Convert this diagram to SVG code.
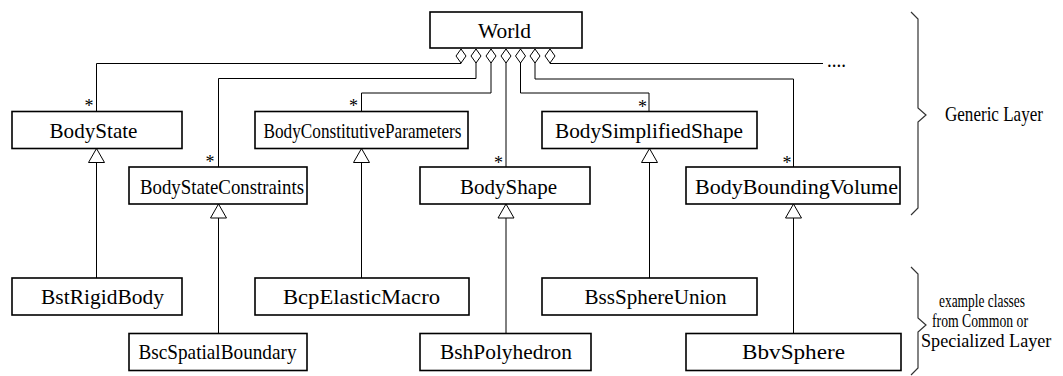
<svg xmlns="http://www.w3.org/2000/svg" width="1063" height="376" viewBox="0 0 1063 376">
<style>
.box rect{fill:#fff;stroke:#000;stroke-width:1.6}
.box text,.lbl{font-family:"Liberation Serif","Times New Roman",serif;font-size:22px;fill:#000}
.box text{text-anchor:middle}
.star{font-family:"Liberation Serif","Times New Roman",serif;font-size:18px;text-anchor:middle;fill:#000}
.conn path{fill:none;stroke:#000;stroke-width:1}
.brace{fill:none;stroke:#333;stroke-width:1.2}
.side{font-family:"Liberation Serif","Times New Roman",serif;fill:#000}
</style>
<defs>
<marker id="agg" markerUnits="userSpaceOnUse" markerWidth="16" markerHeight="12" refX="0" refY="6" orient="auto" viewBox="0 0 16 12">
<path d="M0,6 L7,1 L14,6 L7,11 Z" fill="#fff" stroke="#000" stroke-width="1"/>
</marker>
<marker id="gen" markerUnits="userSpaceOnUse" markerWidth="16" markerHeight="18" refX="15" refY="9" orient="auto" viewBox="0 0 16 18">
<path d="M15,9 L1,1 L1,17 Z" fill="#fff" stroke="#000" stroke-width="1"/>
</marker>
</defs>
<g id="connectors" class="conn">
<path d="M461,49 V63.5 H96.5 V111.5" marker-start="url(#agg)"/>
<path d="M476,49 V78.5 H218.5 V167" marker-start="url(#agg)"/>
<path d="M491,49 V93 H361.5 V111.5" marker-start="url(#agg)"/>
<path d="M506,49 V167" marker-start="url(#agg)"/>
<path d="M520.5,49 V93 H649 V111.5" marker-start="url(#agg)"/>
<path d="M535,49 V79 H793.5 V167" marker-start="url(#agg)"/>
<path d="M550,49 V63.5 H823" marker-start="url(#agg)"/>
<path d="M96.5,278 V148.5" marker-end="url(#gen)"/>
<path d="M218.5,333.5 V204" marker-end="url(#gen)"/>
<path d="M361.5,278 V148.5" marker-end="url(#gen)"/>
<path d="M506,333.5 V204" marker-end="url(#gen)"/>
<path d="M649.5,278 V148.5" marker-end="url(#gen)"/>
<path d="M793.5,333.5 V204" marker-end="url(#gen)"/>
</g>
<g id="multiplicities">
<text class="star" x="89" y="112">*</text>
<text class="star" x="210" y="168">*</text>
<text class="star" x="353.5" y="112">*</text>
<text class="star" x="498.5" y="168.5">*</text>
<text class="star" x="642.5" y="112.5">*</text>
<text class="star" x="787" y="168.5">*</text>
<text class="lbl" x="827" y="67" font-size="19" textLength="19" lengthAdjust="spacingAndGlyphs">....</text>
</g>
<g id="World" class="box"><rect x="430" y="12" width="152" height="36"/><text x="504.5" y="37.5" textLength="53" lengthAdjust="spacingAndGlyphs">World</text></g>
<g id="BodyState" class="box"><rect x="12" y="111.5" width="170" height="37"/><text x="93.5" y="138" textLength="88" lengthAdjust="spacingAndGlyphs">BodyState</text></g>
<g id="BodyConstitutiveParameters" class="box"><rect x="255" y="111.5" width="213" height="37"/><text x="362.5" y="138" textLength="198" lengthAdjust="spacingAndGlyphs">BodyConstitutiveParameters</text></g>
<g id="BodySimplifiedShape" class="box"><rect x="542" y="111.5" width="215" height="37"/><text x="649" y="138" textLength="188" lengthAdjust="spacingAndGlyphs">BodySimplifiedShape</text></g>
<g id="BodyStateConstraints" class="box"><rect x="129" y="167" width="178" height="37"/><text x="222" y="193.5" textLength="164" lengthAdjust="spacingAndGlyphs">BodyStateConstraints</text></g>
<g id="BodyShape" class="box"><rect x="420" y="167" width="170" height="37"/><text x="508.5" y="193.5" textLength="97" lengthAdjust="spacingAndGlyphs">BodyShape</text></g>
<g id="BodyBoundingVolume" class="box"><rect x="686" y="167" width="214" height="37"/><text x="796.5" y="193.5" textLength="203" lengthAdjust="spacingAndGlyphs">BodyBoundingVolume</text></g>
<g id="BstRigidBody" class="box"><rect x="12" y="278" width="170" height="37"/><text x="102.5" y="304" textLength="123" lengthAdjust="spacingAndGlyphs">BstRigidBody</text></g>
<g id="BcpElasticMacro" class="box"><rect x="255" y="278" width="214" height="37"/><text x="361.5" y="304" textLength="157" lengthAdjust="spacingAndGlyphs">BcpElasticMacro</text></g>
<g id="BssSphereUnion" class="box"><rect x="542" y="278" width="215" height="37"/><text x="655.5" y="304" textLength="142" lengthAdjust="spacingAndGlyphs">BssSphereUnion</text></g>
<g id="BscSpatialBoundary" class="box"><rect x="129" y="333.5" width="178" height="37"/><text x="217.5" y="359" textLength="158" lengthAdjust="spacingAndGlyphs">BscSpatialBoundary</text></g>
<g id="BshPolyhedron" class="box"><rect x="420" y="333.5" width="171" height="37"/><text x="506" y="359" textLength="132" lengthAdjust="spacingAndGlyphs">BshPolyhedron</text></g>
<g id="BbvSphere" class="box"><rect x="686" y="333.5" width="215" height="37"/><text x="793.5" y="359" textLength="103" lengthAdjust="spacingAndGlyphs">BbvSphere</text></g>
<g id="layers">
<path class="brace" d="M911,12 L918,19 V108 L926,115 L918,122 V208 L911,215"/>
<path class="brace" d="M911,267 L918,274 V318 L926,325 L918,332 V368 L911,375"/>
<text class="side" font-size="22" transform="translate(945,121) scale(0.775,1)">Generic Layer</text>
<text class="side" font-size="19" transform="translate(939,307) scale(0.706,1)">example classes</text>
<text class="side" font-size="19" transform="translate(932,327) scale(0.722,1)">from Common or</text>
<text class="side" font-size="19" transform="translate(921,347) scale(0.955,1)">Specialized Layer</text>
</g>
</svg>
